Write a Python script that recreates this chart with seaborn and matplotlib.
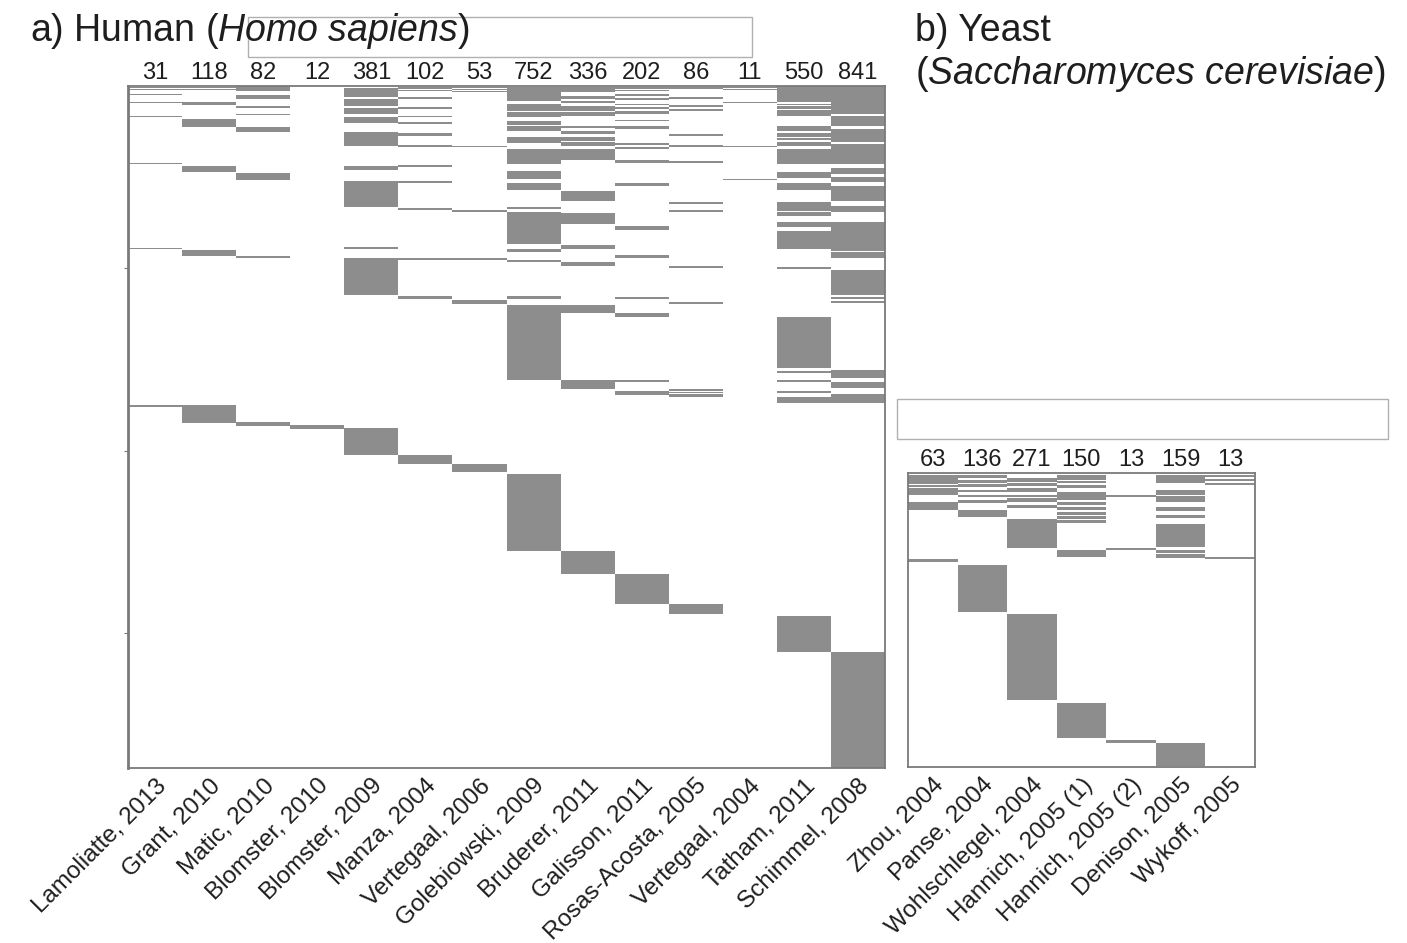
import numpy as np
import pandas as pd
import matplotlib
matplotlib.use('Agg')
import matplotlib.pyplot as plt
import seaborn as sns
from matplotlib.colors import ListedColormap
from matplotlib.patches import Rectangle

sns.set_style('white')
plt.rcParams['font.family'] = ['Liberation Sans', 'DejaVu Sans']
plt.rcParams['mathtext.fontset'] = 'custom'
plt.rcParams['mathtext.rm'] = 'Liberation Sans'
plt.rcParams['mathtext.it'] = 'Liberation Sans:italic'

# ---- a) Human: studies, protein counts, and row spans (start, end) where a protein was found
human_studies = ['Lamoliatte, 2013', 'Grant, 2010', 'Matic, 2010', 'Blomster, 2010',
                 'Blomster, 2009', 'Manza, 2004', 'Vertegaal, 2006', 'Golebiowski, 2009',
                 'Bruderer, 2011', 'Galisson, 2011', 'Rosas-Acosta, 2005', 'Vertegaal, 2004',
                 'Tatham, 2011', 'Schimmel, 2008']
human_counts = [31, 118, 82, 12, 381, 102, 53, 752, 336, 202, 86, 11, 550, 841]
human_rows = 1870
human_hits = [
    # Lamoliatte, 2013
    [(3, 6), (9, 11), (22, 25), (44, 47), (82, 86), (211, 215), (444, 448), (874, 880)],
    # Grant, 2010
    [(3, 6), (8, 10), (44, 52), (90, 112), (219, 236), (449, 466), (874, 923)],
    # Matic, 2010
    [(0, 14), (25, 36), (55, 60), (77, 80), (112, 126), (238, 258), (466, 471), (921, 932)],
    # Blomster, 2010
    [(929, 941)],
    # Blomster, 2009
    [(5, 30), (36, 55), (60, 77), (85, 101), (126, 164), (219, 230), (260, 332), (441, 447),
     (471, 573), (937, 1011)],
    # Manza, 2004
    [(4, 7), (10, 13), (31, 36), (58, 63), (82, 85), (100, 105), (130, 137), (162, 166),
     (217, 221), (261, 265), (335, 341), (472, 478), (575, 584), (1011, 1036)],
    # Vertegaal, 2006
    [(3, 6), (9, 12), (14, 17), (164, 167), (340, 345), (471, 477), (586, 597), (1036, 1058)],
    # Golebiowski, 2009
    [(3, 41), (49, 69), (71, 85), (96, 107), (110, 123), (140, 156), (173, 214), (233, 255),
     (266, 285), (332, 337), (345, 433), (447, 455), (477, 482), (575, 584), (600, 806),
     (1063, 1274)],
    # Bruderer, 2011
    [(3, 16), (27, 36), (41, 47), (55, 69), (71, 82), (110, 115), (123, 132), (140, 151),
     (153, 164), (173, 203), (288, 315), (348, 378), (436, 447), (482, 493), (600, 622),
     (806, 830), (1274, 1337)],
    # Galisson, 2011
    [(3, 8), (11, 14), (22, 27), (33, 38), (49, 52), (58, 63), (69, 77), (92, 97), (110, 118),
     (156, 162), (167, 173), (203, 211), (266, 274), (384, 395), (463, 471), (578, 584),
     (622, 633), (806, 811), (836, 847), (1337, 1419)],
    # Rosas-Acosta, 2005
    [(3, 8), (31, 35), (53, 57), (64, 68), (131, 136), (163, 167), (207, 212), (319, 323),
     (341, 346), (494, 498), (592, 597), (831, 835), (838, 841), (844, 852), (1419, 1449)],
    # Vertegaal, 2004
    [(3, 6), (9, 11), (44, 47), (164, 167), (255, 258)],
    # Tatham, 2011
    [(0, 44), (49, 53), (56, 63), (66, 82), (110, 123), (129, 140), (143, 149), (153, 164),
     (173, 214), (236, 252), (266, 285), (318, 343), (345, 356), (373, 386), (397, 447),
     (496, 501), (633, 773), (781, 786), (806, 811), (836, 841), (852, 869), (1452, 1551)],
    # Schimmel, 2008
    [(0, 77), (82, 110), (118, 153), (159, 214), (225, 241), (249, 263), (274, 315),
     (329, 345), (373, 452), (455, 471), (504, 573), (578, 584), (589, 595), (778, 800),
     (811, 827), (844, 869), (1551, 1869)],
]

# ---- b) Yeast
yeast_studies = ['Zhou, 2004', 'Panse, 2004', 'Wohlschlegel, 2004', 'Hannich, 2005 (1)',
                 'Hannich, 2005 (2)', 'Denison, 2005', 'Wykoff, 2005']
yeast_counts = [63, 136, 271, 150, 13, 159, 13]
yeast_rows = 588
yeast_hits = [
    # Zhou, 2004
    [(4, 22), (24, 28), (30, 44), (58, 74), (172, 178)],
    # Panse, 2004
    [(4, 10), (14, 20), (22, 28), (34, 38), (44, 48), (54, 60), (74, 88), (184, 278)],
    # Wohlschlegel, 2004
    [(10, 18), (20, 26), (30, 38), (44, 48), (50, 58), (64, 70), (92, 150), (282, 454)],
    # Hannich, 2005 (1)
    [(4, 14), (16, 20), (24, 30), (38, 54), (58, 64), (68, 74), (78, 84), (86, 92), (94, 100),
     (154, 168), (460, 530)],
    # Hannich, 2005 (2)
    [(44, 47), (150, 154), (534, 540)],
    # Denison, 2005
    [(4, 20), (34, 44), (46, 58), (68, 76), (84, 89), (102, 148), (154, 160), (162, 170),
     (540, 586)],
    # Wykoff, 2005
    [(4, 7), (12, 15), (20, 23), (168, 172)],
]


def build_matrix(n_rows, hits, studies):
    m = np.zeros((n_rows, len(hits)))
    for j, spans in enumerate(hits):
        for a, b in spans:
            m[a:b, j] = 1
    return pd.DataFrame(m, columns=studies)


human_df = build_matrix(human_rows, human_hits, human_studies)
yeast_df = build_matrix(yeast_rows, yeast_hits, yeast_studies)

grey = '#8d8d8d'
text_col = '#1e1e1e'
cmap = ListedColormap(['white', grey])

fig = plt.figure(figsize=(14.07, 9.43), dpi=100)
ax_h = fig.add_axes([0.0910, 0.1856, 0.5380, 0.7232])
ax_y = fig.add_axes([0.6453, 0.1866, 0.2466, 0.3118])

for ax, df, counts, off in [(ax_h, human_df, human_counts, 0.003),
                            (ax_y, yeast_df, yeast_counts, 0.006)]:
    sns.heatmap(df, ax=ax, cmap=cmap, vmin=0, vmax=1, cbar=False,
                xticklabels=True, yticklabels=False)
    for s in ax.spines.values():
        s.set_visible(True)
        s.set_color('#7a7a7a')
        s.set_linewidth(1.3)
    ax.set_xticklabels(df.columns, rotation=45, ha='right', va='top',
                       rotation_mode='anchor', fontsize=17.5, color=text_col)
    ax.tick_params(axis='x', length=3, color='#9a9a9a', pad=2)
    for j, c in enumerate(counts):
        ax.text(j + 0.5, 1 + off, str(c), transform=ax.get_xaxis_transform(),
                ha='center', va='bottom', fontsize=17, color=text_col)

ax_h.set_yticks([500, 1000, 1500])
ax_h.set_yticklabels([])
ax_h.tick_params(axis='y', left=True, length=3, color='#7a7a7a')
ax_h.spines['left'].set_linewidth(2)

fig.text(0.0213, 0.967, r'a) Human ($\it{Homo\ sapiens}$)', fontsize=27,
         color=text_col, va='center', ha='left')
fig.text(0.6503, 0.967, 'b) Yeast', fontsize=27, color=text_col, va='center', ha='left')
fig.text(0.6503, 0.921, r'($\it{Saccharomyces\ cerevisiae}$)', fontsize=27,
         color=text_col, va='center', ha='left')

# empty frames present in the original figure
fig.patches.append(Rectangle((0.1763, 0.9396), 0.3582, 0.0424, transform=fig.transFigure,
                             fill=False, edgecolor='#b0b0b0', linewidth=1))
fig.patches.append(Rectangle((0.6375, 0.5345), 0.3490, 0.0424, transform=fig.transFigure,
                             fill=False, edgecolor='#b0b0b0', linewidth=1))

fig.savefig('out.png', dpi=100)
